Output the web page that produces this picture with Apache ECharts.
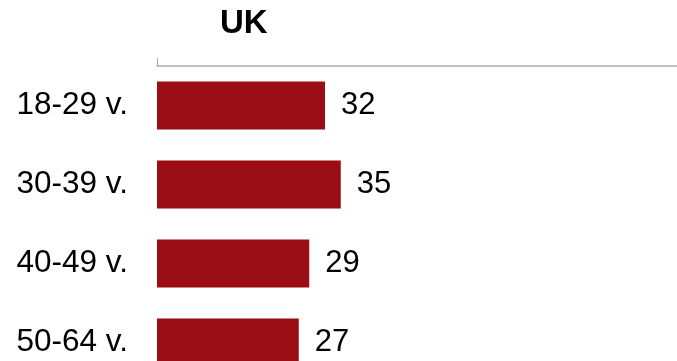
<!DOCTYPE html>
<html>
<head>
<meta charset="utf-8">
<script src="https://cdn.jsdelivr.net/npm/echarts@6/dist/echarts.min.js"></script>
<style>
  html, body { margin: 0; padding: 0; background: #fff; }
  #chart { width: 677px; height: 361px; }
</style>
</head>
<body>
<div id="chart"></div>
<script>
// Age groups and their values
const categories = ['18-29 v.', '30-39 v.', '40-49 v.', '50-64 v.'];
const values = [32, 35, 29, 27];
const titleText = 'UK';

const chart = echarts.init(document.getElementById('chart'), null, { renderer: 'canvas' });
chart.setOption({
  animation: false,
  backgroundColor: '#ffffff',
  title: {
    text: titleText,
    left: 220,
    top: 7,
    padding: 0,
    textStyle: { fontFamily: 'Liberation Sans, Arial, sans-serif', fontSize: 33, fontWeight: 'bold', color: '#000' }
  },
  // plot area runs below the visible canvas, so the last bar is clipped
  grid: {
    left: 157, top: 66, width: 525, height: 316,
    containLabel: false,
    outerBoundsMode: 'none'
  },
  xAxis: {
    type: 'value',
    position: 'top',
    min: 0,
    max: 100,
    interval: 100,
    axisLine: { show: true, lineStyle: { color: '#aaaaaa', width: 1.5 } },
    axisTick: { show: true, length: 8, lineStyle: { color: '#aaaaaa', width: 1 } },
    axisLabel: { show: false },
    splitLine: { show: false }
  },
  yAxis: {
    type: 'category',
    data: categories,
    inverse: true,
    axisLine: { show: false },
    axisTick: { show: false },
    axisLabel: {
      margin: 29,
      fontFamily: 'Liberation Sans, Arial, sans-serif',
      fontSize: 31.5,
      color: '#000'
    }
  },
  series: [{
    type: 'bar',
    data: values,
    barWidth: 48,
    itemStyle: { color: '#9b0d14' },
    label: {
      show: true,
      position: 'right',
      distance: 16,
      fontFamily: 'Liberation Sans, Arial, sans-serif',
      fontSize: 31,
      color: '#000'
    }
  }]
});
</script>
</body>
</html>
